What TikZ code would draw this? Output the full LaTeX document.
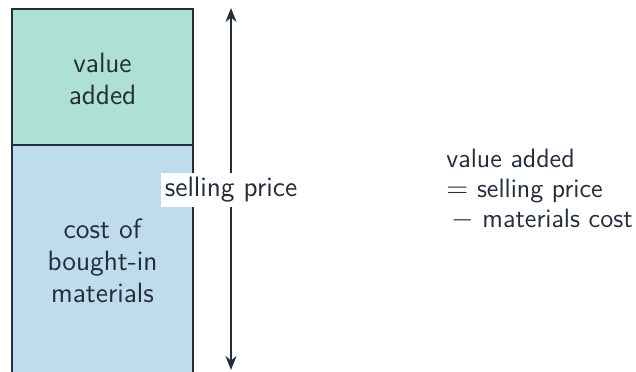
\documentclass[tikz,border=0pt]{standalone}
\usepackage{tikz}
\usetikzlibrary{arrows.meta}
\definecolor{ink}{RGB}{36,45,60}
\definecolor{vagreen}{RGB}{175,224,212}
\definecolor{mcblue}{RGB}{190,220,236}
\tikzset{
  part/.style={draw=ink,line width=1pt},
  lbl/.style={text=ink,font=\sffamily\fontsize{14}{16}\selectfont,align=center}
}
\begin{document}
\begin{tikzpicture}[>={Stealth[length=7pt,width=5.5pt]},x=0.5pt,y=-0.5pt]
			\useasboundingbox (0,0) rectangle (636,371);
			\begin{scope}
			\clip (0,0) rectangle (636,371);
			\filldraw[part,fill=mcblue] (12,145) rectangle (193,380);
			\filldraw[part,fill=vagreen] (12,9) rectangle (193,145);
			\end{scope}
			\node[lbl] (va) at (102.5,79) {value\\added};
			\node[lbl] (mc) at (102.5,261) {cost of\\bought-in\\materials};
			\coordinate (top) at (231,8);
			\coordinate (bot) at (231,370);
			\draw[<->,ink,line width=1pt] (top) -- (bot);
			\node[lbl,fill=white,inner sep=2pt] (sp) at (231,190) {selling price};
			\node[lbl,align=left,anchor=west,inner sep=0pt,font=\sffamily\fontsize{13.3}{15}\selectfont] (eq) at (446,189)
			{value added\\$=$ selling price\\\hspace{2.5pt}$-$ materials cost};
			\end{tikzpicture}
\end{document}
